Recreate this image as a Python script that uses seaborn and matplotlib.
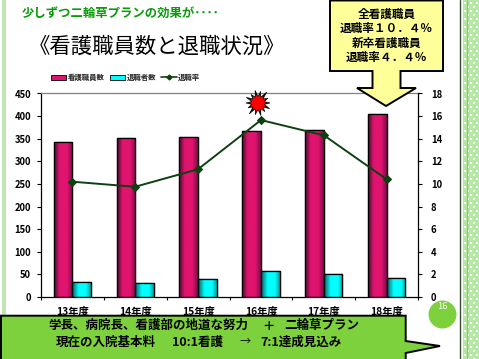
import numpy as np
import pandas as pd
import matplotlib
matplotlib.use('Agg')
import matplotlib.pyplot as plt
from matplotlib.colors import LinearSegmentedColormap
from matplotlib.lines import Line2D
from matplotlib.patches import Patch, Polygon, Circle, Rectangle
import seaborn as sns

# values
years = ['13年度', '14年度', '15年度', '16年度', '17年度', '18年度']
nurses = [343, 351, 353, 367, 369, 404]
leavers = [34, 32, 39, 57, 50, 41]
rate = [10.2, 9.75, 11.3, 15.65, 14.3, 10.4]
series_names = ['看護職員数', '退職者数']
rate_name = '退職率'
left_ticks = [0, 50, 100, 150, 200, 250, 300, 350, 400, 450]
right_ticks = [0, 2, 4, 6, 8, 10, 12, 14, 16, 18]

sns.set_theme(style='white')
plt.rcParams['font.family'] = ['Noto Sans CJK JP', 'DejaVu Sans']

W, H = 479, 359
fig = plt.figure(figsize=(W / 100, H / 100), dpi=100, facecolor='white')

# slide decoration layer, in pixels
bg = fig.add_axes([0, 0, 1, 1], zorder=0)
bg.set_xlim(0, W)
bg.set_ylim(H, 0)
bg.axis('off')
bg.add_patch(Rectangle((2, 0), 4, H, color='#bfe6b4', lw=0))
bg.add_patch(Rectangle((463, 0), 16, H, color='#b5e8a0', lw=0))
for yy in range(2, H, 4):
    for xx in range(464 + (yy // 4) % 2 * 3, W, 6):
        bg.add_patch(Rectangle((xx, yy), 1.6, 1.6, color='white', lw=0))
bg.plot([460.5, 460.5], [0, H], color='#2f4f2f', lw=1.0)
bg.plot([467.5, 467.5], [0, H], color='#7fcf6a', lw=0.9)

ax = fig.add_axes([40.7 / W, 1 - 297 / H, 377.6 / W, 203.5 / H], zorder=2)
ax.patch.set_alpha(0)

df = pd.DataFrame({
    'year': years * 2,
    'kind': [series_names[0]] * len(years) + [series_names[1]] * len(years),
    'count': nurses + leavers,
})
sns.barplot(data=df, x='year', y='count', hue='kind', hue_order=series_names,
            palette=['#e0146e', '#00ffff'], width=0.59, gap=0, saturation=1,
            edgecolor='black', linewidth=0.9, legend=False, ax=ax)

# shaded bars: gradient clipped to each bar, outline put back on top
pink = LinearSegmentedColormap.from_list('p', [(0, '#4a0c30'), (.3, '#e0146e'), (.7, '#e0146e'), (1, '#7a0e48')])
cyan = LinearSegmentedColormap.from_list('c', [(0, '#086068'), (.35, '#00ffff'), (.75, '#00ffff'), (1, '#009a9a')])
grad = np.linspace(0, 1, 64).reshape(1, -1)
for i, bar in enumerate(list(ax.patches)):
    x0, y0 = bar.get_x(), bar.get_y()
    wd, ht = bar.get_width(), bar.get_height()
    im = ax.imshow(grad, cmap=pink if i < len(years) else cyan, aspect='auto', zorder=2.5,
                   extent=[x0, x0 + wd, y0, y0 + ht])
    im.set_clip_path(bar)
    ax.add_patch(Rectangle((x0, y0), wd, ht, fc='none', ec='black', lw=0.9, zorder=2.6))
ax.set_xlim(-0.5, 5.5)
ax.set_ylim(0, 450)
ax.set_yticks(left_ticks)
ax.set_xlabel('')
ax.set_ylabel('')
ax.set_xticks(np.arange(-0.5, 6, 1), minor=True)
ax.tick_params(axis='x', which='minor', length=2, width=0.8, color='black', bottom=True)
ax.tick_params(axis='x', which='major', length=0, pad=7, labelsize=7.4)
ax.tick_params(axis='y', length=3, width=0.8, color='black', left=True, pad=4, labelsize=6.8)
for lab in ax.get_xticklabels() + ax.get_yticklabels():
    lab.set_fontweight('bold')
    lab.set_color('black')
for name in ['left', 'bottom']:
    ax.spines[name].set_color('black')
    ax.spines[name].set_linewidth(0.9)
ax.spines['right'].set_visible(False)
ax.spines['top'].set_color('#808080')
ax.spines['top'].set_linewidth(0.9)

ax2 = ax.twinx()
ax2.patch.set_alpha(0)
sns.lineplot(x=np.arange(len(years)), y=rate, color='#0f4010', lw=1.4, marker='D', ms=4,
             mec='#0f4010', ax=ax2)
ax2.set_xlim(-0.5, 5.5)
ax2.set_ylim(0, 18)
ax2.set_yticks(right_ticks)
ax2.tick_params(axis='y', length=3, width=0.8, color='black', right=True, pad=6, labelsize=6.8)
for lab in ax2.get_yticklabels():
    lab.set_fontweight('bold')
    lab.set_color('black')
for name in ['left', 'bottom', 'top']:
    ax2.spines[name].set_visible(False)
ax2.spines['right'].set_color('black')
ax2.spines['right'].set_linewidth(0.9)

handles = [Patch(facecolor='#e0146e', edgecolor='black', lw=0.6),
           Patch(facecolor='#00ffff', edgecolor='black', lw=0.6),
           Line2D([0], [0], color='#0f4010', lw=1.2, marker='D', ms=2.5)]
fig.legend(handles, series_names + [rate_name], loc='center left',
           bbox_to_anchor=(47 / W, 1 - 77.5 / H), ncols=3, frameon=False,
           prop={'size': 5.3, 'weight': 'bold'}, handlelength=2.1, handleheight=0.8,
           handletextpad=0.2, columnspacing=0.7, borderpad=0)

# overlay layer, in pixels
top = fig.add_axes([0, 0, 1, 1], zorder=5)
top.set_xlim(0, W)
top.set_ylim(H, 0)
top.axis('off')
top.text(22, 13, '少しずつ二輪草プランの効果が････', color='#0a9a0a', fontsize=8.9,
         fontweight='bold', va='center', ha='left')
top.text(29, 47, '《看護職員数と退職状況》', color='black', fontsize=15.4, va='center', ha='left')

# yellow arrow callout
call = [(330, 0.5), (443, 0.5), (443, 71), (400.5, 71), (400.5, 88), (416, 88), (386, 106),
        (357, 88), (372.5, 88), (372.5, 71), (330, 71)]
top.add_patch(Polygon(call, closed=True, fc='#ffff99', ec='black', lw=1.4, joinstyle='miter'))
for yy, s in zip([14.5, 28.5, 43, 57],
                 ['全看護職員', '退職率１０．４％', '新卒看護職員', '退職率４．４％']):
    top.text(386.5, yy, s, color='black', fontsize=8.4, fontweight='bold', ha='center', va='center')

# red burst above the 16年度 point
ang = np.linspace(0, 2 * np.pi, 29)[:-1]
outer = np.array([12, 9, 13, 10, 11, 9, 13, 10, 12, 9, 14, 10, 11, 10]) * 1.0
rad_o = np.where(np.arange(28) % 2 == 0, np.tile(outer, 2), 6.5)
spikes = np.column_stack([258 + rad_o * np.cos(ang), 103 + rad_o * np.sin(ang)])
top.add_patch(Polygon(spikes, closed=True, fc='black', ec='black', lw=0.4))
rad_i = np.where(np.arange(28) % 2 == 0, 8.5, 6)
inner = np.column_stack([258 + rad_i * np.cos(ang), 103 + rad_i * np.sin(ang)])
top.add_patch(Polygon(inner, closed=True, fc='#ff0000', ec='none'))

# page number circle
top.add_patch(Circle((442.5, 314.5), 14, fc='#7dd13c', ec='none'))
top.text(442.5, 306.5, '16', color='white', fontsize=6.8, ha='center', va='center')

# bottom green callout
box = [(1, 315.7), (405.7, 315.7), (405.7, 341), (440, 346), (405.7, 353), (405.7, 361), (1, 361)]
top.add_patch(Polygon(box, closed=True, fc='#7dd13c', ec='black', lw=1.4, joinstyle='miter'))
txt = dict(color='black', fontsize=9, fontweight='bold', ha='left', va='center')
top.text(48, 325.5, '学長、病院長、看護部の地道な努力', **txt)
top.text(262, 325.5, '＋', **txt)
top.text(284, 325.5, '二輪草プラン', **txt)
top.text(56, 342, '現在の入院基本料', **txt)
top.text(172, 342, '10:1看護', **txt)
top.text(240, 342, '→', color='black', fontsize=8, ha='left', va='center')
top.text(260, 342, '7:1達成見込み', **txt)

fig.savefig('out.png', dpi=100)
